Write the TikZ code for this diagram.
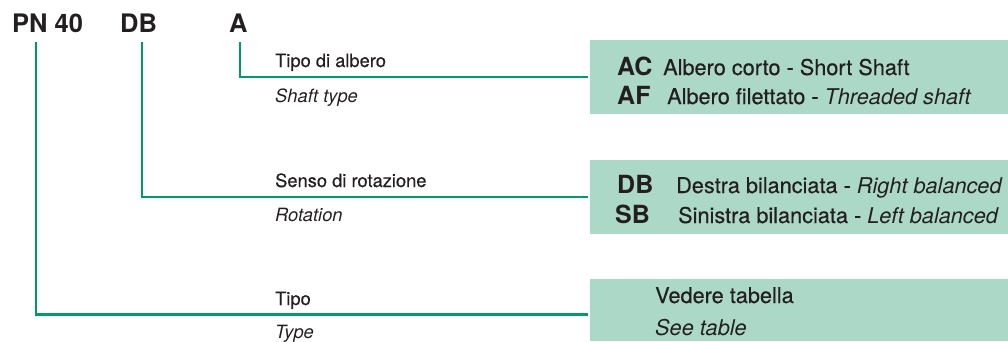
\documentclass[tikz,border=0pt]{standalone}
\usepackage{fontspec}
\setmainfont{TeX Gyre Heros}
\newfontfamily\medfont[FakeBold=0.35]{TeX Gyre Heros}
\definecolor{lg}{HTML}{009A68}
\definecolor{boxg}{HTML}{ABD8C7}
\definecolor{tx}{HTML}{231F20}
\begin{document}
\begin{tikzpicture}[x=1pt,y=-1pt,
  code/.style={font=\fontsize{25.5}{25.5}\selectfont\bfseries, anchor=base west, inner sep=0pt, text=tx},
  bcode/.style={font=\fontsize{25}{25}\selectfont\bfseries, anchor=base west, inner sep=0pt, text=tx},
  lab/.style={font=\fontsize{18.3}{18.3}\selectfont\medfont, anchor=base west, inner sep=0pt, text=tx},
  labi/.style={font=\fontsize{18.3}{18.3}\selectfont\itshape, anchor=base west, inner sep=0pt, text=tx},
  btxt/.style={font=\fontsize{21.7}{21.7}\selectfont\medfont, anchor=base west, inner sep=0pt, text=tx},
  btxti/.style={font=\fontsize{21.7}{21.7}\selectfont\itshape, anchor=base west, inner sep=0pt, text=tx},
  conn/.style={draw=lg, line width=2.2pt},
  optbox/.style={fill=boxg, draw=none}]
\useasboundingbox (0,0) rectangle (1008,341);
% boxes
\fill[optbox] (590,40) rectangle (1008,114);
\fill[optbox] (590,160) rectangle (1008,234);
\fill[optbox] (590,279) rectangle (1008,341);
% codes
\node[code] (pn) at (12,32) {PN 40};
\node[code] (db) at (120,32) {DB};
\node[code] (a) at (229,32) {A};
% connector coordinates
\coordinate (pnt) at (36,42);
\coordinate (dbt) at (142,42);
\coordinate (at) at (240,42);
\coordinate (e1) at (588,77.3);
\coordinate (e2) at (588,197.3);
\coordinate (e3) at (588,314.5);
\draw[conn] (at) |- (e1);
\draw[conn] (dbt) |- (e2);
\draw[conn] (pnt) |- (e3);
% labels
\node[lab] (l1) at (275,67) {Tipo di albero};
\node[labi] (l1i) at (275,102) {Shaft type};
\node[lab] (l2) at (275,187) {Senso di rotazione};
\node[labi] (l2i) at (275,221) {Rotation};
\node[lab] (l3) at (275,305) {Tipo};
\node[labi] (l3i) at (275,338) {Type};
% box 1
\node[bcode] (ac) at (617,75) {AC};
\node[btxt] (act) at (663,75) {Albero corto - Short Shaft};
\node[bcode] (af) at (617,104) {AF};
\node[btxt] (aft) at (667,104) {Albero filettato - {\normalfont\fontsize{21.7}{21.7}\selectfont\itshape Threaded shaft}};
% box 2
\node[bcode] (db2) at (617,193) {DB};
\node[btxt] (dbt2) at (676,193) {Destra bilanciata - {\normalfont\fontsize{21.7}{21.7}\selectfont\itshape Right balanced}};
\node[bcode] (sb) at (615,223) {SB};
\node[btxt] (sbt) at (678,223) {Sinistra bilanciata - {\normalfont\fontsize{21.7}{21.7}\selectfont\itshape Left balanced}};
% box 3
\node[btxt] (vt) at (655,303) {Vedere tabella};
\node[btxti] (st) at (655,335) {See table};
\end{tikzpicture}
\end{document}
